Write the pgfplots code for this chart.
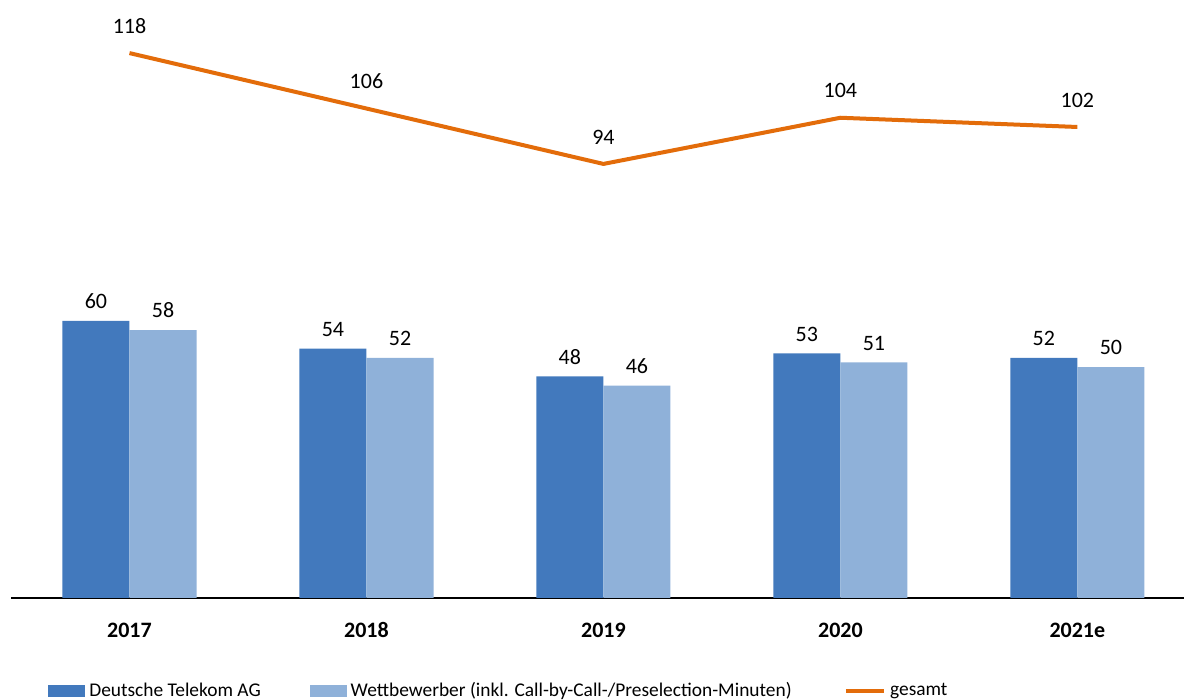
\documentclass[border=0pt]{standalone}
\usepackage{fontspec}
\setmainfont{Carlito}
\usepackage{pgfplots}
\pgfplotsset{compat=1.18}
\definecolor{dtblue}{HTML}{4279BD}
\definecolor{wbblue}{HTML}{8FB1D9}
\definecolor{gesorange}{HTML}{E36C0A}

\begin{document}
\begin{tikzpicture}
\begin{axis}[
    scale only axis,
    width=586.5pt, height=299pt,
    xmin=-0.5, xmax=4.45,
    ymin=0, ymax=129.5,
    axis y line=none,
    axis x line*=bottom,
    x axis line style={line width=1pt, black},
    xtick={0,1,2,3,4},
    xticklabels={\textbf{2017},\textbf{2018},\textbf{2019},\textbf{2020},\textbf{2021e}},
    typeset ticklabels with strut,
    major tick length=0pt,
    xticklabel style={font=\fontsize{11}{13}\selectfont, yshift=-7pt},
    /pgf/number format/assume math mode=true,
    clip=false,
    legend columns=3,
    legend cell align=left,
    legend style={draw=none, fill=none, inner sep=0pt, at={(0.0315,-0.156)}, anchor=west,
        font=\fontsize{9.7}{12}\selectfont,
        /tikz/column 2/.style={column sep=22.5pt},
        /tikz/column 4/.style={column sep=24pt}},
]
% Deutsche Telekom AG
\addplot[ybar, bar width=0.283, bar shift=-0.1415, fill=dtblue, draw=none,
    nodes near coords,
    every node near coord/.append style={text=black, font=\fontsize{11}{13}\selectfont, xshift=-16.77pt, yshift=2.5pt},
    legend image code/.code={\fill[dtblue] (0pt,-3pt) rectangle (18.5pt,3pt);}]
    coordinates {(0,60) (1,54) (2,48) (3,53) (4,52)};
\addlegendentry{Deutsche Telekom AG}
% Wettbewerber
\addplot[ybar, bar width=0.283, bar shift=0.1415, fill=wbblue, draw=none,
    nodes near coords,
    every node near coord/.append style={text=black, font=\fontsize{11}{13}\selectfont, xshift=16.77pt, yshift=2.5pt},
    legend image code/.code={\fill[wbblue] (0pt,-3pt) rectangle (18.5pt,3pt);}]
    coordinates {(0,58) (1,52) (2,46) (3,51) (4,50)};
\addlegendentry{Wettbewerber (inkl. Call-by-Call-/Preselection-Minuten)}
% gesamt
\addplot[sharp plot, gesorange, line width=2pt, mark=none, line join=round,
    nodes near coords,
    every node near coord/.append style={text=black, font=\fontsize{11}{13}\selectfont, anchor=south, yshift=5.5pt},
    legend image code/.code={\draw[gesorange, line width=2.2pt] (0pt,0pt) -- (19pt,0pt);}]
    coordinates {(0,118) (1,106) (2,94) (3,104) (4,102)};
\addlegendentry{gesamt}
\end{axis}
\pgfresetboundingbox
\useasboundingbox (-5.5pt,-51pt) rectangle (586.5pt,299pt);
\end{tikzpicture}
\end{document}
